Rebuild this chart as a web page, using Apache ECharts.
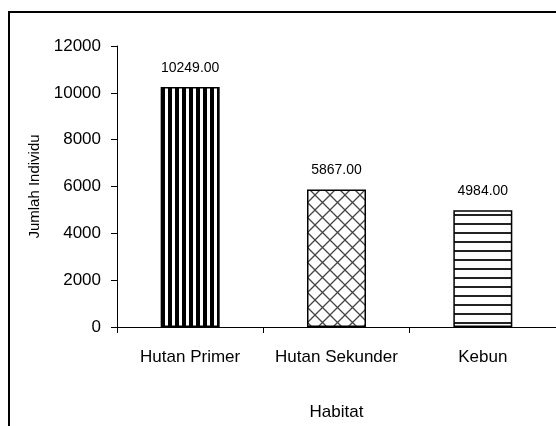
<!DOCTYPE html>
<html>
<head>
<meta charset="utf-8">
<script src="https://cdn.jsdelivr.net/npm/echarts@6/dist/echarts.min.js"></script>
<style>html,body{margin:0;padding:0;background:#fff}#c{width:556px;height:426px}</style>
</head>
<body>
<div id="c"></div>
<script>
var categories = ['Hutan Primer', 'Hutan Sekunder', 'Kebun'];
var values = [10249, 5867, 4984];
var yTicks = { min: 0, max: 12000, interval: 2000 };

function makeCanvas(w, h, draw) {
  var c = document.createElement('canvas');
  c.width = w; c.height = h;
  var ctx = c.getContext('2d');
  ctx.fillStyle = '#fff';
  ctx.fillRect(0, 0, w, h);
  draw(ctx);
  return c;
}
var vStripes = makeCanvas(7, 7, function (ctx) {
  ctx.fillStyle = '#000';
  ctx.fillRect(0, 0, 4, 7);
});
var cross = makeCanvas(15, 15, function (ctx) {
  ctx.strokeStyle = '#444';
  ctx.lineWidth = 1.3;
  ctx.beginPath();
  ctx.moveTo(-1, -1); ctx.lineTo(16, 16);
  ctx.moveTo(-1, 16); ctx.lineTo(16, -1);
  ctx.stroke();
});
var hStripes = makeCanvas(9, 9, function (ctx) {
  ctx.fillStyle = '#222';
  ctx.fillRect(0, 7, 9, 2);
});
var patterns = [vStripes, cross, hStripes];

var font = "'Liberation Sans', Arial, sans-serif";
var chart = echarts.init(document.getElementById('c'));
chart.setOption({
  animation: false,
  backgroundColor: '#fff',
  grid: { left: 117, right: 0, top: 46, bottom: 99 },
  graphic: [{
    type: 'rect', shape: { x: 9, y: 12, width: 700, height: 600 },
    style: { fill: 'none', stroke: '#000', lineWidth: 2 }, z: 100
  }],
  xAxis: {
    type: 'category', data: categories,
    name: 'Habitat', nameLocation: 'middle', nameGap: 77,
    nameTextStyle: { fontFamily: font, fontSize: 17, color: '#000' },
    axisLine: { lineStyle: { color: '#000', width: 1 } },
    axisTick: { show: true, length: 6, lineStyle: { color: '#000' } },
    axisLabel: { fontFamily: font, fontSize: 17, color: '#000', margin: 22, interval: 0 }
  },
  yAxis: {
    type: 'value', min: yTicks.min, max: yTicks.max, interval: yTicks.interval,
    name: 'Jumlah Individu', nameLocation: 'middle', nameGap: 57,
    nameTextStyle: { fontFamily: font, fontSize: 15, color: '#000' },
    axisLine: { show: true, lineStyle: { color: '#000', width: 1 } },
    axisTick: { show: true, length: 6, lineStyle: { color: '#000' } },
    axisLabel: { fontFamily: font, fontSize: 17, color: '#000', margin: 16,
      formatter: function (v) { return String(v); } },
    splitLine: { show: false }
  },
  series: [{
    type: 'bar', barWidth: 59,
    data: values.map(function (v, i) {
      return { value: v, itemStyle: { color: { image: patterns[i], repeat: 'repeat' } } };
    }),
    itemStyle: { borderColor: '#000', borderWidth: 1.5 },
    label: {
      show: true, position: 'top', distance: 12,
      fontFamily: font, fontSize: 14, color: '#000',
      formatter: function (p) { return p.value.toFixed(2); }
    }
  }]
});
</script>
</body>
</html>
